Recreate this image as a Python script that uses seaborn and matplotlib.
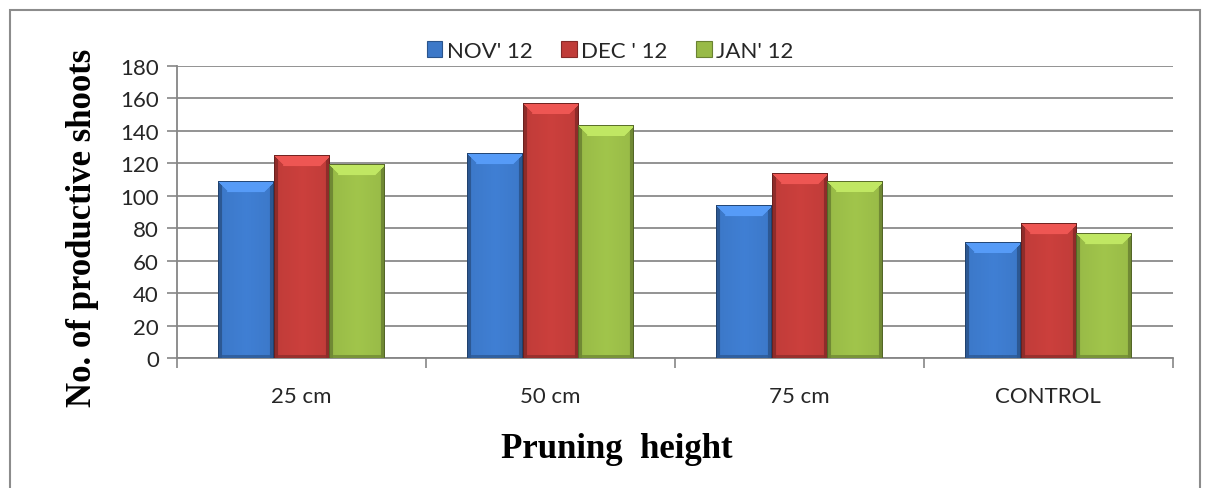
import numpy as np
import pandas as pd
import matplotlib
matplotlib.use("Agg")
import matplotlib.pyplot as plt
import matplotlib.colors as mcolors
from matplotlib.patches import Rectangle, Patch
import seaborn as sns

# Data: productive shoots per pruning height and month
heights = ["25 cm", "50 cm", "75 cm", "CONTROL"]
months = ["NOV' 12", "DEC ' 12", "JAN' 12"]
nov_12 = [108.5, 125.8, 93.7, 71.4]
dec_12 = [124.6, 156.9, 113.5, 82.7]
jan_12 = [119.0, 143.4, 109.0, 76.6]
y_ticks = [0, 20, 40, 60, 80, 100, 120, 140, 160, 180]

df = pd.DataFrame({
    "height": heights * 3,
    "month": [months[0]] * 4 + [months[1]] * 4 + [months[2]] * 4,
    "shoots": nov_12 + dec_12 + jan_12,
})

palette = {months[0]: "#3c78c8", months[1]: "#c03c39", months[2]: "#98ba47"}

sns.set_theme(style="white")
plt.rcParams["font.family"] = ["Lato", "DejaVu Sans"]

fig = plt.figure(figsize=(12.06, 4.89), dpi=100)
ax = fig.add_axes([0.1468, 0.2658, 0.8256, 0.5972])

sns.barplot(data=df, x="height", y="shoots", hue="month", order=heights,
            hue_order=months, palette=palette, width=0.667, saturation=1,
            edgecolor="none", linewidth=0, legend=False, ax=ax, zorder=3)

ax.set_ylim(0, 180)
ax.set_xlim(-0.5, len(heights) - 0.5)
ax.set_yticks(y_ticks)
ax.set_yticklabels([str(t) for t in y_ticks], fontsize=16)
ax.set_xticks(range(len(heights)))
ax.set_xticklabels(heights, fontsize=16)
ax.set_xticks(np.arange(-0.5, len(heights), 1.0), minor=True)
ax.tick_params(axis="x", which="major", length=0, pad=20)
ax.tick_params(axis="x", which="minor", length=7, width=1.2, color="#868686",
               direction="out", bottom=True)
ax.tick_params(axis="y", length=7, width=1.2, color="#868686",
               direction="out", left=True, pad=6)

ax.yaxis.grid(True, color="#8a8a8a", linewidth=1.3, zorder=0)
ax.set_axisbelow(True)
for side in ["top", "right"]:
    ax.spines[side].set_visible(False)
for side in ["left", "bottom"]:
    ax.spines[side].set_color("#868686")
    ax.spines[side].set_linewidth(1.3)

ax.set_xlabel("Pruning  height", family=["Liberation Serif"], fontweight="bold",
              fontsize=25, color="black")
ax.set_ylabel("No. of productive shoots", family=["Liberation Serif"],
              fontweight="bold", fontsize=25, color="black")
ax.xaxis.set_label_coords(0.4418, -0.255)
ax.yaxis.set_label_coords(-0.078, 0.449)

# Bevelled shading for each bar, built from the bar geometry
fig.canvas.draw()
for patch in list(ax.patches):
    x0, y0 = patch.get_x(), patch.get_y()
    w, h = patch.get_width(), patch.get_height()
    if h <= 0:
        continue
    base = np.array(mcolors.to_rgb(patch.get_facecolor()))
    (px0, py0) = ax.transData.transform((x0, y0))
    (px1, py1) = ax.transData.transform((x0 + w, y0 + h))
    W = max(int(round(px1 - px0)), 2)
    H = max(int(round(py1 - py0)), 2)
    img = np.tile(base, (H, W, 1))
    xs = np.arange(W)
    # gentle horizontal shading across the face
    shade = 1.0 + 0.06 * (1 - np.abs((xs - W / 2) / (W / 2)))
    img *= shade[None, :, None]
    bevel = 11
    edge = 4
    for r in range(H):
        for c in range(W):
            if r < bevel and c >= r * 0.9 and c < W - r * 0.9:
                img[r, c] = np.clip(base * 1.15 + 0.07, 0, 1)
            elif c < edge or c >= W - edge:
                img[r, c] = base * 0.74
            elif r >= H - 3:
                img[r, c] = base * 0.8
    img[:, 0] = base * 0.55
    img[:, -1] = base * 0.55
    img[0, :] = base * 0.6
    patch.set_visible(False)
    ax.imshow(np.clip(img, 0, 1), extent=(x0, x0 + w, y0, y0 + h),
              aspect="auto", origin="upper", zorder=3, interpolation="bilinear")
ax.set_xlim(-0.5, len(heights) - 0.5)
ax.set_ylim(0, 180)

handles = [Patch(facecolor=palette[m], edgecolor=mcolors.to_hex(
    np.array(mcolors.to_rgb(palette[m])) * 0.7), linewidth=0.8, label=m)
    for m in months]
fig.legend(handles=handles, loc="center", bbox_to_anchor=(0.506, 0.894),
           ncol=3, frameon=False, fontsize=16, handlelength=0.7,
           handleheight=0.7, handletextpad=0.2, columnspacing=1.3)

# Chart area border
fig.add_artist(Rectangle((10 / 1206, -0.02), 1190 / 1206, 1.02 - 11 / 489,
                         transform=fig.transFigure, fill=False,
                         edgecolor="#8c8c8c", linewidth=1.5))

fig.savefig("out.png", dpi=100)
